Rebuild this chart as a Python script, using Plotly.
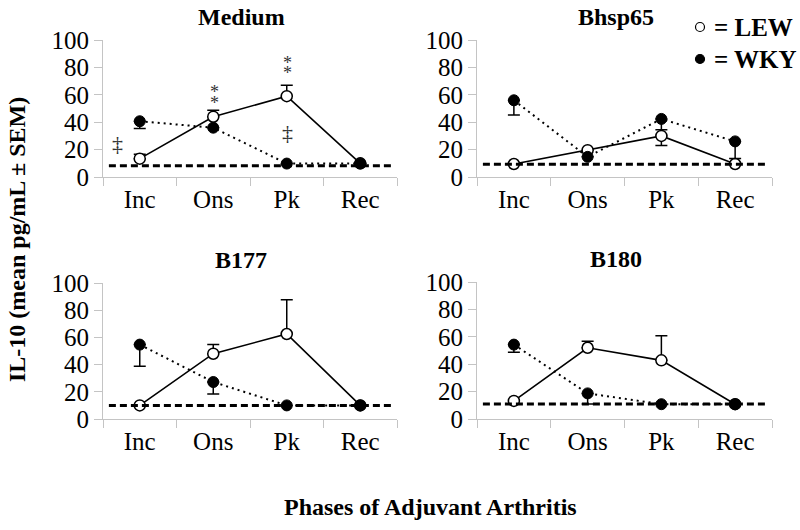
import plotly.graph_objects as go

# ---------------- data ----------------
phases = ["Inc", "Ons", "Pk", "Rec"]
panels = ["Medium", "Bhsp65", "B177", "B180"]

lew_medium = [13.4, 44, 59, 10]
lew_medium_up = [3.2, 4.8, 8, 0]
lew_medium_dn = [0, 0, 0, 0]
wky_medium = [40.7, 36, 9.8, 9.8]
wky_medium_up = [0, 0, 0, 0]
wky_medium_dn = [5.3, 0, 0, 0]

lew_bhsp65 = [9.5, 19.6, 30, 9.5]
lew_bhsp65_up = [0, 0, 0, 0]
lew_bhsp65_dn = [0, 0, 7, 0]
wky_bhsp65 = [56, 14.7, 42.4, 26]
wky_bhsp65_up = [0, 0, 0, 0]
wky_bhsp65_dn = [10.7, 0, 8, 12.5]

lew_b177 = [10, 48, 62.5, 10]
lew_b177_up = [0, 6.7, 25.2, 0]
lew_b177_dn = [0, 0, 0, 0]
wky_b177 = [54.7, 27.2, 10, 10]
wky_b177_up = [0, 0, 0, 0]
wky_b177_dn = [16, 8.8, 0, 0]

lew_b180 = [13.2, 52, 42.8, 10.8]
lew_b180_up = [0, 4.7, 18, 0]
lew_b180_dn = [0, 0, 0, 0]
wky_b180 = [54.3, 18.7, 10.8, 10.8]
wky_b180_up = [0, 0, 0, 0]
wky_b180_dn = [5.5, 7.7, 0, 0]

baselines = [8.3, 9.3, 10, 11]

y_ticks = [0, 20, 40, 60, 80, 100]

legend_labels = ["= LEW", "= WKY"]

# significance marks: (panel index, phase, y value, symbol)
sig_marks = [
    (0, "Ons", 64.7, "*"), (0, "Ons", 56.7, "*"),
    (0, "Pk", 86.0, "*"), (0, "Pk", 78.6, "*"),
    (0, "Inc", 24.5, "‡"), (0, "Pk", 32.5, "‡"),
]

lew_sets = [(lew_medium, lew_medium_up, lew_medium_dn),
            (lew_bhsp65, lew_bhsp65_up, lew_bhsp65_dn),
            (lew_b177, lew_b177_up, lew_b177_dn),
            (lew_b180, lew_b180_up, lew_b180_dn)]
wky_sets = [(wky_medium, wky_medium_up, wky_medium_dn),
            (wky_bhsp65, wky_bhsp65_up, wky_bhsp65_dn),
            (wky_b177, wky_b177_up, wky_b177_dn),
            (wky_b180, wky_b180_up, wky_b180_dn)]

# ---------------- layout geometry ----------------
W, H = 800, 530
FONT = "Liberation Serif, Times New Roman, serif"
AXC = "#c4c4c4"

# pixel boxes: (left, right, top, bottom)
boxes = [(103, 397, 40, 177), (477, 772, 40, 177),
         (103, 397, 283, 419), (477, 772, 282, 419)]

fig = go.Figure()
layout = dict(
    width=W, height=H, margin=dict(l=0, r=0, t=0, b=0, autoexpand=False),
    paper_bgcolor="white", plot_bgcolor="white",
    font=dict(family=FONT, color="black"),
    showlegend=False,
)

shapes = []
annotations = []

for i in range(4):
    xa = "x" if i == 0 else f"x{i+1}"
    ya = "y" if i == 0 else f"y{i+1}"
    xk = "xaxis" if i == 0 else f"xaxis{i+1}"
    yk = "yaxis" if i == 0 else f"yaxis{i+1}"
    l, r, t, b = boxes[i]
    layout[xk] = dict(
        domain=[l / W, r / W], anchor=ya, type="category",
        categoryorder="array", categoryarray=phases,
        range=[-0.5, 3.5], tickson="boundaries", ticks="outside",
        ticklen=8, tickcolor=AXC, tickwidth=1, automargin=False,
        showline=True, linecolor=AXC, linewidth=1, showgrid=False,
        zeroline=False, tickfont=dict(size=25, family=FONT, color="black"),
        fixedrange=True,
    )
    layout[yk] = dict(
        domain=[1 - b / H, 1 - t / H], anchor=xa, range=[0, 100],
        tickvals=y_ticks, ticks="outside", ticklen=8, tickcolor=AXC,
        showline=True, linecolor=AXC, linewidth=1, showgrid=False,
        automargin=False,
        zeroline=False, tickfont=dict(size=25, family=FONT, color="black"),
        fixedrange=True,
    )

    v, up, dn = lew_sets[i]
    fig.add_trace(go.Scatter(
        x=phases, y=v, xaxis=xa, yaxis=ya, mode="lines+markers",
        line=dict(color="black", width=1.6),
        marker=dict(symbol="circle", size=11, color="white",
                    line=dict(color="black", width=1.5)),
        error_y=dict(type="data", symmetric=False, array=up, arrayminus=dn,
                     color="black", thickness=1.5, width=6),
        showlegend=False, cliponaxis=False, hoverinfo="skip",
    ))
    v, up, dn = wky_sets[i]
    fig.add_trace(go.Scatter(
        x=phases, y=v, xaxis=xa, yaxis=ya, mode="lines+markers",
        line=dict(color="black", width=2, dash="2px,4px"),
        marker=dict(symbol="circle", size=11, color="black",
                    line=dict(color="black", width=1)),
        error_y=dict(type="data", symmetric=False, array=up, arrayminus=dn,
                     color="black", thickness=1.5, width=6),
        showlegend=False, cliponaxis=False, hoverinfo="skip",
    ))

    # detection-limit baseline
    shapes.append(dict(
        type="line", xref=f"{xa} domain", yref=ya,
        x0=0.02, x1=0.98, y0=baselines[i], y1=baselines[i],
        line=dict(color="black", width=3, dash="7px,4px"), layer="above",
    ))

    # panel title
    cx = (l + r) / 2 - 9
    cy = t - 23
    annotations.append(dict(
        text=f"<b>{panels[i]}</b>", x=cx / W, y=1 - cy / H,
        xref="paper", yref="paper", showarrow=False,
        xanchor="center", yanchor="middle",
        font=dict(size=24, family=FONT, color="black"),
    ))

for (pi, ph, yv, sym) in sig_marks:
    xa = "x" if pi == 0 else f"x{pi+1}"
    ya = "y" if pi == 0 else f"y{pi+1}"
    xs = -22 if (sym == "‡" and ph == "Inc") else 1
    annotations.append(dict(
        text=sym, x=ph, y=yv, xref=xa, yref=ya, showarrow=False,
        xanchor="center", yanchor="middle", xshift=xs,
        yshift=-4 if sym == "*" else 0,
        font=dict(size=18 if sym == "*" else 22, family=FONT, color="#333333"),
    ))

# axis titles
annotations.append(dict(
    text="<b>IL-10 (mean pg/mL ± SEM)</b>", x=17 / W, y=1 - 240 / H,
    xref="paper", yref="paper", showarrow=False, textangle=-90,
    xanchor="center", yanchor="middle",
    font=dict(size=24, family=FONT, color="black"),
))
annotations.append(dict(
    text="<b>Phases of Adjuvant Arthritis</b>", x=430 / W, y=1 - 507 / H,
    xref="paper", yref="paper", showarrow=False,
    xanchor="center", yanchor="middle",
    font=dict(size=24, family=FONT, color="black"),
))

# legend key (symbol + text)
leg_rows = [27, 59]
leg_fill = ["white", "black"]
for k, lab in enumerate(legend_labels):
    yc = leg_rows[k]
    shapes.append(dict(
        type="circle", xref="paper", yref="paper",
        x0=(700 - 4.5) / W, x1=(700 + 4.5) / W,
        y0=1 - (yc + 4.5) / H, y1=1 - (yc - 4.5) / H,
        fillcolor=leg_fill[k], line=dict(color="black", width=1.2),
    ))
    annotations.append(dict(
        text=f"<b>{lab}</b>", x=712 / W, y=1 - (yc + 1) / H,
        xref="paper", yref="paper", showarrow=False,
        xanchor="left", yanchor="middle",
        font=dict(size=25, family=FONT, color="black"),
    ))

layout["shapes"] = shapes
layout["annotations"] = annotations
fig.update_layout(**layout)

fig.write_html(
    "out.html",
    config={"displayModeBar": False, "staticPlot": True},
    post_script="document.body.style.margin='0';document.body.style.overflow='hidden';",
)
